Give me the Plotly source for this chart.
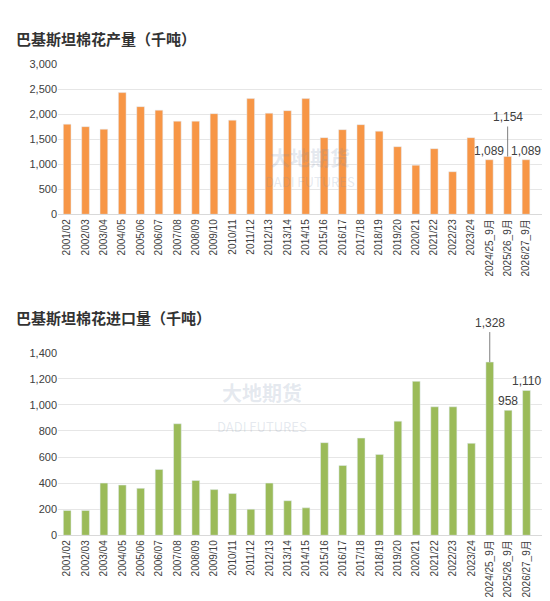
import plotly.graph_objects as go

years = ["2001/02", "2002/03", "2003/04", "2004/05", "2005/06", "2006/07", "2007/08", "2008/09",
         "2009/10", "2010/11", "2011/12", "2012/13", "2013/14", "2014/15", "2015/16", "2016/17",
         "2017/18", "2018/19", "2019/20", "2020/21", "2021/22", "2022/23", "2023/24",
         "2024/25_9月", "2025/26_9月", "2026/27_9月"]
production = [1800, 1750, 1700, 2430, 2150, 2080, 1860, 1860, 2010, 1880, 2310, 2020, 2070, 2310,
              1530, 1690, 1790, 1660, 1350, 980, 1310, 850, 1530, 1089, 1154, 1089]
imports = [190, 190, 400, 385, 360, 505, 855, 420, 350, 320, 200, 400, 265, 210, 710, 535, 745,
           620, 875, 1180, 985, 985, 705, 1328, 958, 1110]

orange = "#F79646"
green = "#9BBB59"
font = "Noto Sans CJK SC"

fig = go.Figure()
fig.add_trace(go.Bar(x=years, y=production, marker_color=orange, width=0.42, xaxis="x", yaxis="y"))
fig.add_trace(go.Bar(x=years, y=imports, marker_color=green, width=0.42, xaxis="x2", yaxis="y2"))

tick_fam = "Liberation Sans, Noto Sans CJK SC"
axis_x = dict(tickangle=-90, showgrid=False, showline=True, linecolor="#d9d9d9", ticks="", type="category",
              tickfont=dict(size=10, color="#404040", family=tick_fam))
axis_y = dict(tickfont=dict(size=11, color="#404040", family="Liberation Sans"), showgrid=True,
              gridcolor="#e6e6e6", zeroline=False, tickformat=",")

wm = dict(xref="paper", yref="paper", showarrow=False)
anns = [
    dict(text="<b>巴基斯坦棉花产量（千吨）</b>", x=-0.09, y=0.98, xref="paper", yref="paper",
         xanchor="left", showarrow=False, font=dict(size=15, color="#333333")),
    dict(text="<b>巴基斯坦棉花进口量（千吨）</b>", x=-0.09, y=0.485, xref="paper", yref="paper",
         xanchor="left", showarrow=False, font=dict(size=15, color="#333333")),
    dict(wm, text="<b>大地期货</b>", x=0.52, y=0.785, font=dict(size=20, color="rgba(120,140,170,0.2)")),
    dict(wm, text="DADI FUTURES", x=0.52, y=0.735, font=dict(size=13, color="rgba(120,140,170,0.2)")),
    dict(wm, text="<b>大地期货</b>", x=0.42, y=0.33, font=dict(size=20, color="rgba(120,140,170,0.2)")),
    dict(wm, text="DADI FUTURES", x=0.42, y=0.28, font=dict(size=13, color="rgba(120,140,170,0.2)")),
]
lab = dict(showarrow=False, yanchor="bottom", font=dict(size=12, color="#404040", family="Liberation Sans"))
for i in range(len(years) - 3, len(years)):
    a = dict(lab, x=years[i], y=production[i], xref="x", yref="y", text="{:,}".format(production[i]))
    if i == len(years) - 2:
        a.update(showarrow=True, ax=0, ay=-30, arrowhead=0, arrowcolor="#7f7f7f", arrowwidth=1)
    anns.append(a)
    b = dict(lab, x=years[i], y=imports[i], xref="x2", yref="y2", text="{:,}".format(imports[i]))
    if i == len(years) - 3:
        b.update(showarrow=True, ax=0, ay=-30, arrowhead=0, arrowcolor="#7f7f7f", arrowwidth=1)
    anns.append(b)

fig.update_layout(
    width=550, height=601, showlegend=False, plot_bgcolor="white", paper_bgcolor="white",
    margin=dict(l=50, r=15, t=0, b=0), font=dict(family=font),
    xaxis=dict(axis_x, domain=[0, 1], anchor="y"),
    yaxis=dict(axis_y, domain=[0.66, 0.915], range=[0, 3000], dtick=500),
    xaxis2=dict(axis_x, domain=[0, 1], anchor="y2"),
    yaxis2=dict(axis_y, domain=[0.115, 0.425], range=[0, 1400], dtick=200),
    annotations=anns,
)
fig.write_html("out.html")
